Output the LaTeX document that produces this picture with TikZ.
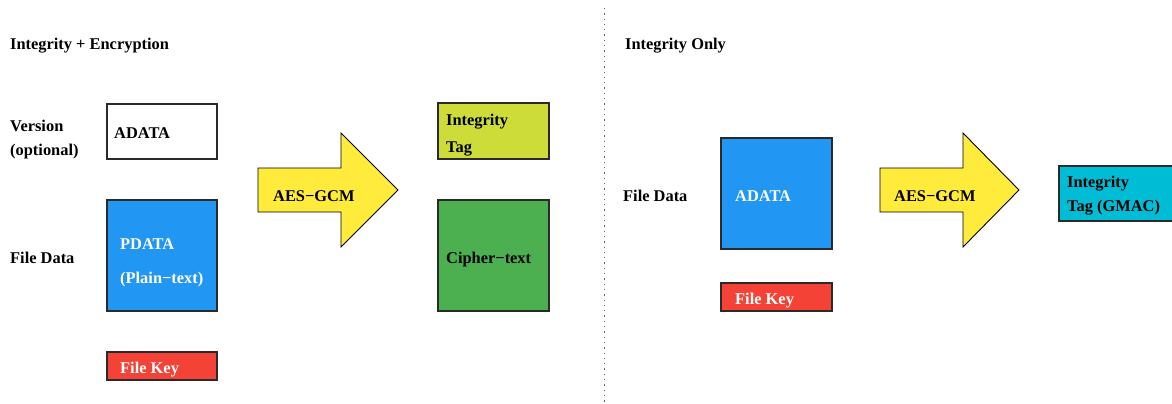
\documentclass[tikz,border=0pt]{standalone}
\usepackage{fontspec}
\setmainfont{Liberation Serif}
\definecolor{mwhite}{HTML}{FFFFFF}
\definecolor{mblue}{HTML}{2196F3}
\definecolor{mred}{HTML}{F44336}
\definecolor{myellow}{HTML}{FFEB3B}
\definecolor{mlime}{HTML}{CDDC39}
\definecolor{mgreen}{HTML}{4CAF50}
\definecolor{mcyan}{HTML}{00BCD4}
\definecolor{edge}{HTML}{2A2A2A}
\tikzset{
  box/.style={draw=edge, line width=1.1pt},
  txt/.style={anchor=base west, inner sep=0pt, font=\fontsize{16.4}{19}\selectfont\bfseries, align=left},
  wtxt/.style={txt, text=white},
  bigarrow/.style={draw=black, line width=0.9pt, fill=myellow, line join=miter},
}
\begin{document}
\begin{tikzpicture}[x=1pt,y=-1pt]
\useasboundingbox (0,0) rectangle (1172,404);
\clip (0,0) rectangle (1172,404);
% divider
\coordinate (divtop) at (604,8);
\coordinate (divbot) at (604,404);
\draw[gray!80!black, line width=1pt, dash pattern=on 1.3pt off 4pt] (divtop) -- (divbot);

% titles
\node[txt] (t1) at (10,49) {Integrity + Encryption};
\node[txt] (t2) at (625,49) {Integrity Only};

% left part
\node[txt] (ver) at (10,131) {Version};
\node[txt] (opt) at (10,155) {(optional)};
\node[txt] (fd1) at (10,263) {File Data};

\path[box, fill=mwhite] (107,104) rectangle (217,159);
\node[txt] (ad1) at (114,138) {ADATA};

\path[box, fill=mblue] (107,200) rectangle (217,311);
\node[wtxt] (pd) at (120,249) {PDATA};
\node[wtxt] (pt) at (120,283) {(Plain−text)};

\path[box, fill=mred] (107,352) rectangle (217,380);
\node[wtxt] (fk1) at (120,373) {File Key};

\path[bigarrow] (258,168) -- (341,168) -- (341,133) -- (398,190) -- (341,247) -- (341,212) -- (258,212) -- cycle;
\node[txt] (aes1) at (273,201) {AES−GCM};

\path[box, fill=mlime] (438,103) rectangle (549,159);
\node[txt] (it1) at (446,125) {Integrity};
\node[txt] (tag1) at (446,152) {Tag};

\path[box, fill=mgreen] (438,200) rectangle (549,311);
\node[txt] (ct) at (446,263) {Cipher−text};

% right part
\node[txt] (fd2) at (623,201) {File Data};

\path[box, fill=mblue] (721,138) rectangle (832,249);
\node[wtxt] (ad2) at (735,201) {ADATA};

\path[box, fill=mred] (721,283) rectangle (832,311);
\node[wtxt] (fk2) at (735,304) {File Key};

\path[bigarrow] (880,168) -- (963,168) -- (963,133) -- (1019,190) -- (963,247) -- (963,212) -- (880,212) -- cycle;
\node[txt] (aes2) at (894,201) {AES−GCM};

\path[box, fill=mcyan] (1059,166) rectangle (1185,221);
\node[txt] (it2) at (1067,187) {Integrity};
\node[txt] (tag2) at (1067,211) {Tag (GMAC)};
\end{tikzpicture}
\end{document}
